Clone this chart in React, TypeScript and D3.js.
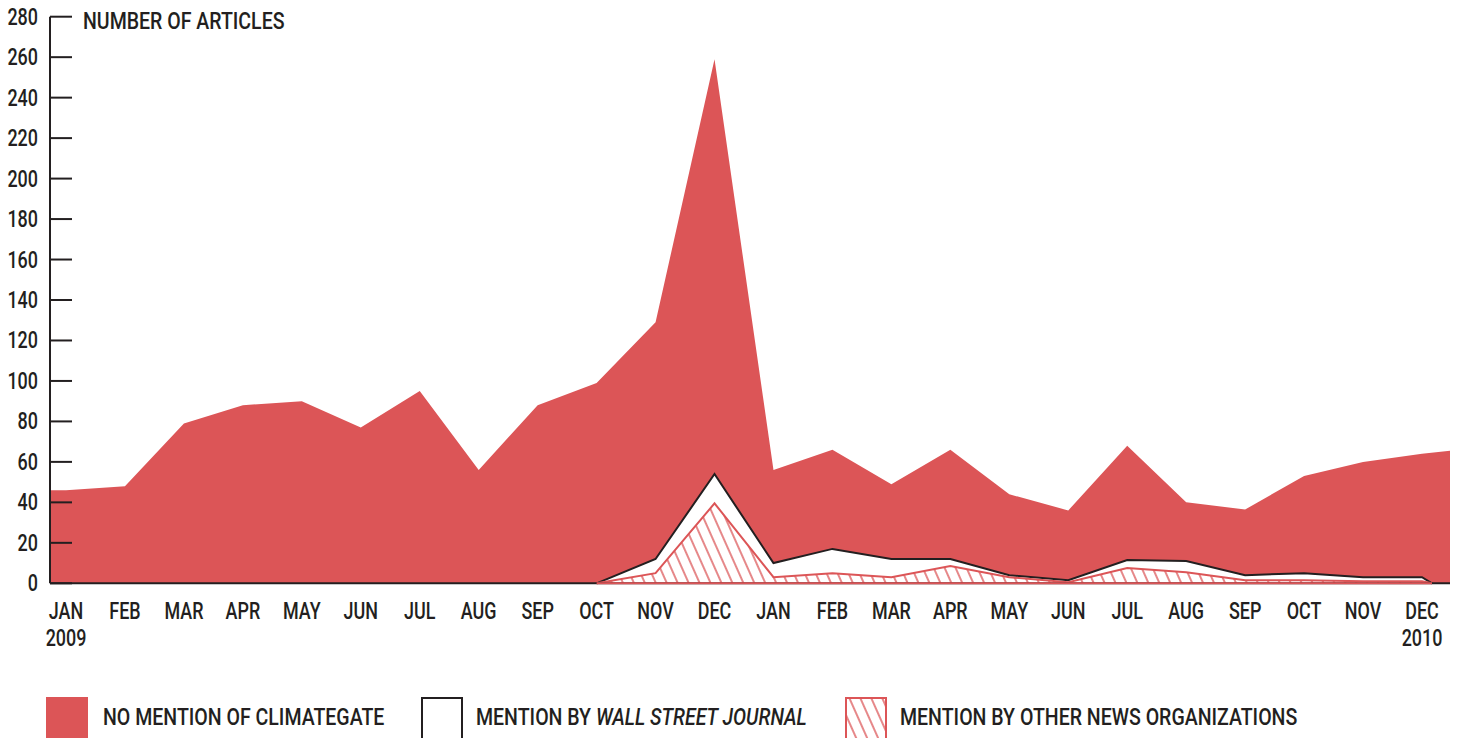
import React from "react";
import * as d3 from "d3";

const months = ["JAN","FEB","MAR","APR","MAY","JUN","JUL","AUG","SEP","OCT","NOV","DEC","JAN","FEB","MAR","APR","MAY","JUN","JUL","AUG","SEP","OCT","NOV","DEC"];
const yearLabels = [{ idx: 0, text: "2009" }, { idx: 23, text: "2010" }];
const otherNews = [0,0,0,0,0,0,0,0,0,0,5,39.5,3,5,3,8.5,3,0.5,7.5,5.5,1.5,1.5,1,1];
const wsj = [0,0,0,0,0,0,0,0,0,0,7,14.5,7,12,9,3.5,1,1,4,5.5,2.5,3.5,2,2];
const noMention = [46,48,79,88,90,77,95,56,88,99,117,205,46,49,37,54,40,34.5,56.5,29,32.5,48,57,61];
const yTicks = [0,20,40,60,80,100,120,140,160,180,200,220,240,260,280];
const legendItems = ["NO MENTION OF CLIMATEGATE", "MENTION BY ", "WALL STREET JOURNAL", "MENTION BY OTHER NEWS ORGANIZATIONS"];

const RED = "#dc5557";
const INK = "#231f20";
const FONT = "Roboto, 'DejaVu Sans', sans-serif";
const FS = 23;

function T({ x, y, anchor = "start", sx = 0.78, children }: { x: number; y: number; anchor?: string; sx?: number; children: React.ReactNode }) {
  return (
    <g transform={`translate(${x},${y}) scale(${sx},1)`}>
      <text x={0} y={0} textAnchor={anchor as any} fontSize={FS} fontWeight={500} fill={INK}>{children}</text>
    </g>
  );
}

export default function App() {
  const W = 1460, H = 738;
  const PL = 50, PR = 1450;
  const x = d3.scaleLinear().domain([0, 23]).range([66, 1422]);
  const y = d3.scaleLinear().domain([0, 280]).range([583.3, 16.7]);

  const rows = months.map((m, i) => ({ i, other: otherNews[i], wsj: wsj[i], noMention: noMention[i] }));
  const stacked = d3.stack<any>().keys(["other", "wsj", "noMention"])(rows);
  const topOther = stacked[0].map(d => d[1]);
  const topWsj = stacked[1].map(d => d[1]);
  const topAll = stacked[2].map(d => d[1]);

  type P = [number, number];
  const redPts: P[] = [[PL, topAll[0]], ...topAll.map((v, i) => [x(i), v] as P), [PR, topAll[23] + 1.5]];
  const redArea = d3.area<P>().x(d => d[0]).y0(y(0)).y1(d => y(d[1]))(redPts)!;

  const start = 9;
  const endX = (x(23) + PR) / 2 - 4;
  const mk = (arr: number[]): P[] => [...arr.slice(start).map((v, k) => [x(start + k), v] as P), [endX, 0]];
  const wsjPts = mk(topWsj);
  const othPts = mk(topOther);
  const areaGen = d3.area<P>().x(d => d[0]).y0(y(0)).y1(d => y(d[1]));
  const lineGen = d3.line<P>().x(d => d[0]).y(d => y(d[1]));
  const LSX = 0.85;

  return (
    <svg width={W} height={H} style={{ position: "absolute", left: 0, top: 0, background: "#fff" }} fontFamily={FONT}>
      <defs>
        <pattern id="hatch" patternUnits="userSpaceOnUse" width="10" height="10" patternTransform="rotate(-24)">
          <rect width="10" height="10" fill="#fff" />
          <line x1="2" y1="0" x2="2" y2="10" stroke={RED} strokeWidth="1.4" />
        </pattern>
      </defs>
      <path d={redArea} fill={RED} />
      <path d={areaGen(wsjPts)!} fill="#fff" />
      <path d={lineGen(wsjPts)!} fill="none" stroke={INK} strokeWidth={2} />
      <path d={areaGen(othPts)!} fill="url(#hatch)" />
      <path d={lineGen(othPts)!} fill="none" stroke={RED} strokeWidth={2} />
      <line x1={PL} x2={PR} y1={y(0)} y2={y(0)} stroke={INK} strokeWidth={2} />
      <line x1={PL} x2={PL} y1={y(280)} y2={y(0)} stroke={INK} strokeWidth={2} />
      <line x1={x(start)} x2={endX} y1={y(0)} y2={y(0)} stroke={RED} strokeWidth={2} />
      {yTicks.map(t => (
        <g key={t}>
          <line x1={PL} x2={PL + 22} y1={y(t)} y2={y(t)} stroke={INK} strokeWidth={2} />
          <T x={38} y={y(t) + 8} anchor="end">{t}</T>
        </g>
      ))}
      <T x={83} y={29} sx={LSX}>NUMBER OF ARTICLES</T>
      {months.map((m, i) => (
        <T key={i} x={x(i)} y={619} anchor="middle">{m}</T>
      ))}
      {yearLabels.map(l => (
        <T key={l.text} x={x(l.idx)} y={646} anchor="middle">{l.text}</T>
      ))}
      <rect x={46} y={697} width={42} height={44} fill={RED} />
      <T x={103} y={725} sx={LSX}>{legendItems[0]}</T>
      <rect x={422} y={698} width={40} height={42} fill="#fff" stroke={INK} strokeWidth={2} />
      <T x={476} y={725} sx={LSX}>{legendItems[1]}<tspan fontStyle="italic">{legendItems[2]}</tspan></T>
      <rect x={846} y={698} width={40} height={42} fill="url(#hatch)" stroke={RED} strokeWidth={2} />
      <T x={900} y={725} sx={LSX}>{legendItems[3]}</T>
    </svg>
  );
}
